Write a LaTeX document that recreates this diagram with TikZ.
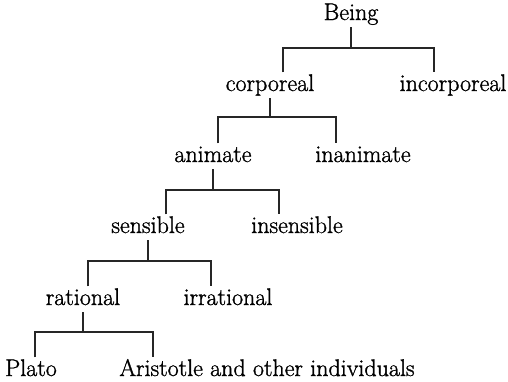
\documentclass[tikz,border=0pt]{standalone}
\usepackage{fontspec}
\setmainfont{Latin Modern Roman}[BoldFont={Latin Modern Roman},BoldFeatures={FakeBold=1.2}]
\begin{document}
\begin{tikzpicture}[x=1pt,y=-1pt,
  term/.style={anchor=base,inner sep=2.5pt,text height=16pt,text depth=4.5pt,
    font=\fontsize{24}{28}\selectfont\bfseries},
  link/.style={line width=1.1pt,draw=black!85}]
\useasboundingbox (0,0) rectangle (508,381);
% terms
\node[term] (being) at (351,20) {Being};
\node[term] (corporeal) at (270,91) {corporeal};
\node[term] (incorporeal) at (453,91) {incorporeal};
\node[term] (animate) at (213,162) {animate};
\node[term] (inanimate) at (363,162) {inanimate};
\node[term] (sensible) at (148,233) {sensible};
\node[term] (insensible) at (297,233) {insensible};
\node[term] (rational) at (83,305) {rational};
\node[term] (irrational) at (228,305) {irrational};
\node[term] (plato) at (31,376) {Plato};
\node[term] (aristotle) at (267,376) {Aristotle and other individuals};
% bar heights
\coordinate (j1) at (0,48);
\coordinate (j2) at (0,117);
\coordinate (j3) at (0,190);
\coordinate (j4) at (0,261);
\coordinate (j5) at (0,332);
% connectors
\draw[link] (being.south) -- (being.south |- j1);
\draw[link] ([xshift=13pt]corporeal.north) |- (being.south |- j1) -| ([xshift=-19pt]incorporeal.north);
\draw[link] (corporeal.south) -- (corporeal.south |- j2);
\draw[link] ([xshift=5pt]animate.north) |- (corporeal.south |- j2) -| ([xshift=-27pt]inanimate.north);
\draw[link] (animate.south) -- (animate.south |- j3);
\draw[link] ([xshift=18pt]sensible.north) |- (animate.south |- j3) -| ([xshift=-18pt]insensible.north);
\draw[link] (sensible.south) -- (sensible.south |- j4);
\draw[link] ([xshift=5pt]rational.north) |- (sensible.south |- j4) -| ([xshift=-17pt]irrational.north);
\draw[link] (rational.south) -- (rational.south |- j5);
\draw[link] ([xshift=4pt]plato.north) |- (rational.south |- j5) -| ([xshift=-114pt]aristotle.north);
\end{tikzpicture}
\end{document}
